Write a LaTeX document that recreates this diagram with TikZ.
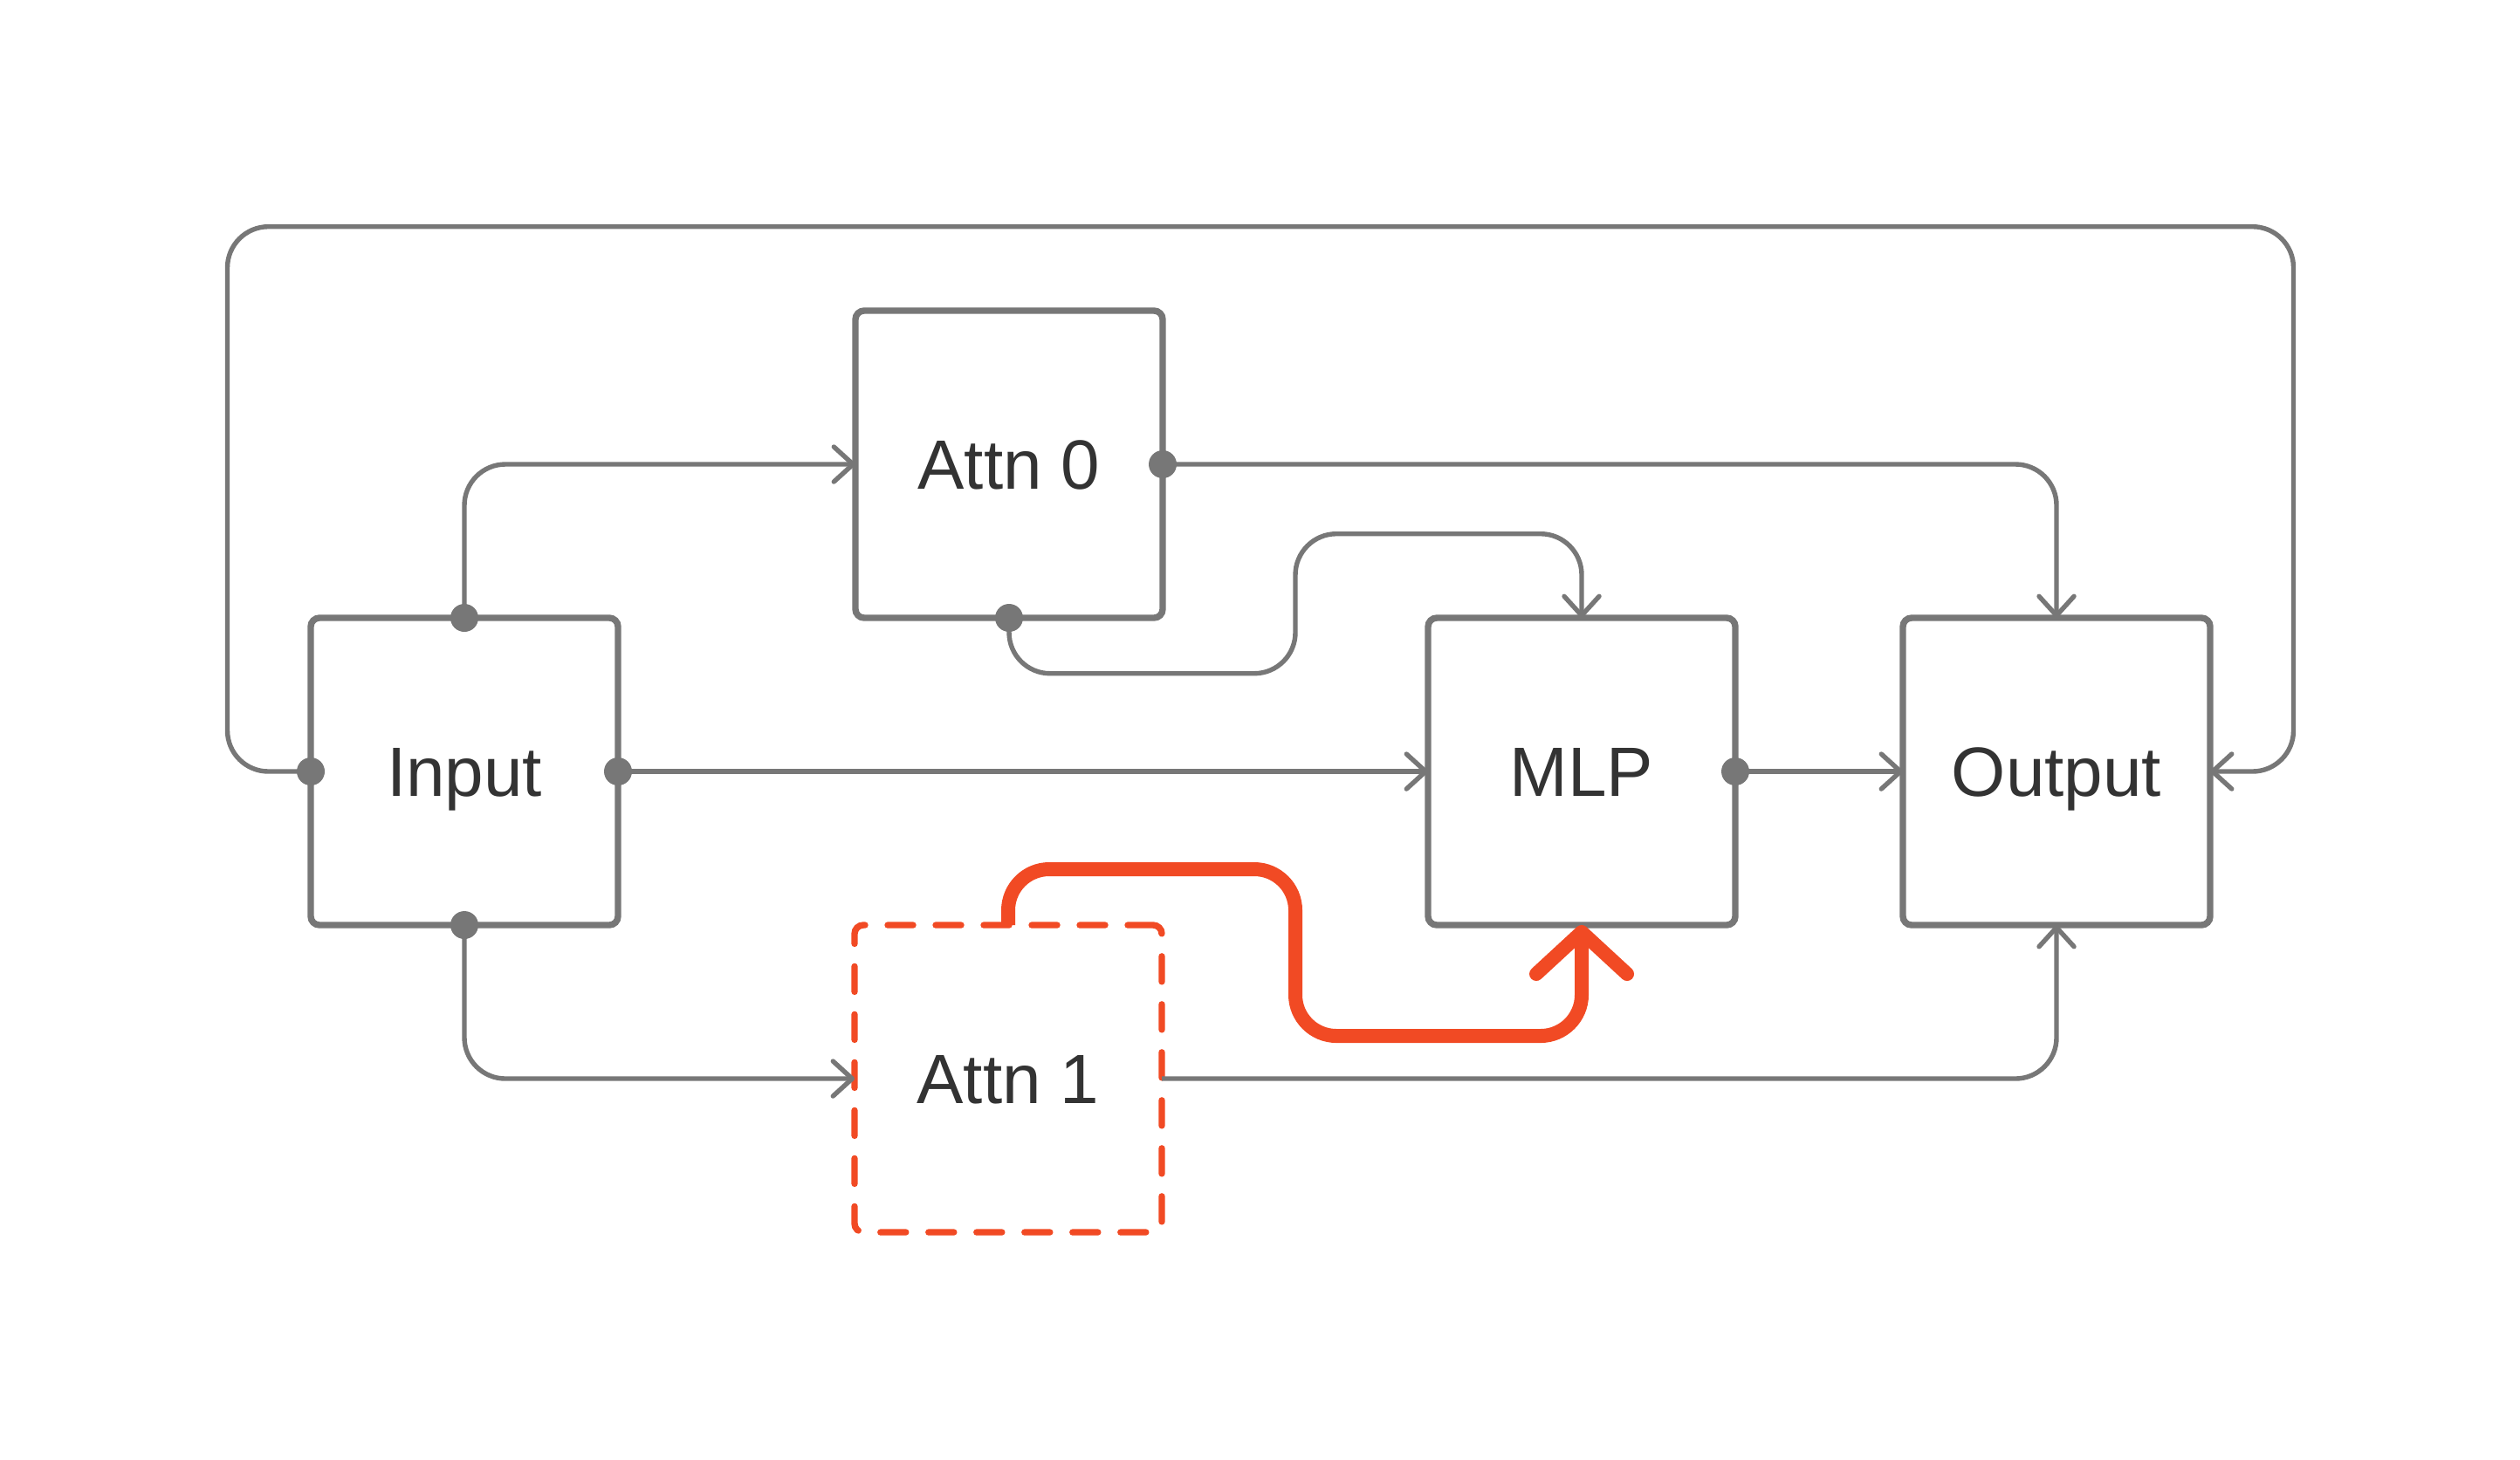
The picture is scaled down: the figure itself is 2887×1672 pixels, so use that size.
\documentclass[tikz,border=0pt]{standalone}
\usepackage{fontspec}
\setmainfont{Liberation Sans}
\usetikzlibrary{arrows.meta}
\definecolor{lgray}{HTML}{777777}
\definecolor{txt}{HTML}{333333}
\definecolor{hot}{HTML}{F14A24}
\begin{document}
\begin{tikzpicture}[x=0.25pt,y=-0.25pt,
  box/.style={draw=lgray,line width=1.85pt,rounded corners=2.5pt,minimum size=88pt,inner sep=0pt,outer sep=0pt,text=txt,font=\fontsize{20}{24}\selectfont,text height=14.3pt,text depth=0pt},
  hotbox/.style={box,draw=hot,dash pattern=on 7.25pt off 6.5pt,line cap=round},
  conn/.style={draw=lgray,line width=1.35pt,rounded corners=11.75pt},
  arr/.style={conn,-{Straight Barb[length=5.5pt,width=10pt,round]}},
  hotarr/.style={draw=hot,line width=4pt,rounded corners=11.75pt,-{Straight Barb[length=12pt,width=26pt,round]}},
  port/.style={fill=lgray}
]
\useasboundingbox (0,0) rectangle (2887,1672);
% boxes
\node[box] (in) at (532,884) {Input};
\node[box] (a0) at (1156,532) {Attn 0};
\node[box] (mlp) at (1812,884) {MLP};
\node[box] (out) at (2356,884) {Output};
\node[hotbox] (a1) at (1155,1236) {Attn 1};
% connectors
\draw[arr] (in.north) |- (a0.west);
\draw[arr] (in.south) |- (a1.west);
\draw[arr] (in.east) -- (mlp.west);
\draw[arr] (a0.east) -| (out.north);
\draw[arr] (a0.south) -- (a0.south |- 0,771.7) -| (1484,611.7) -| (mlp.north);
\draw[arr] (mlp.east) -- (out.west);
\draw[arr] (a1.east) -| (out.south);
\draw[arr] (in.west) -- (in.west -| 260.5,0) |- (2627.5,259.7) |- (out.east);
\draw[hotarr] (a1.north) |- (1484,996) -- (1484,1187) -| (mlp.south);
% ports
\fill[port] (in.north) circle (4pt);
\fill[port] (in.south) circle (4pt);
\fill[port] (in.east) circle (4pt);
\fill[port] (in.west) circle (4pt);
\fill[port] (a0.east) circle (4pt);
\fill[port] (a0.south) circle (4pt);
\fill[port] (mlp.east) circle (4pt);
\end{tikzpicture}
\end{document}
